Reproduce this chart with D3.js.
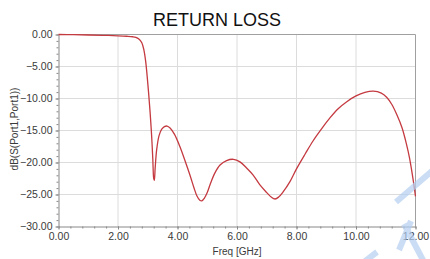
<!DOCTYPE html>
<html>
<head>
<meta charset="utf-8">
<script src="https://cdn.jsdelivr.net/npm/d3@7"></script>
<style>
  html, body { margin: 0; padding: 0; background: #fff; }
  svg { display: block; font-family: "Liberation Sans", Arial, sans-serif; }
</style>
</head>
<body>
<svg id="chart" width="430" height="259"></svg>
<script>
// ---- data ----
const freq = [0, 0.5, 1, 1.5, 2, 2.3, 2.5, 2.6, 2.7, 2.8, 2.87, 2.93, 2.98, 3.03, 3.08, 3.13, 3.17, 3.2, 3.22, 3.25, 3.3, 3.38, 3.47, 3.56, 3.65, 3.75, 3.9, 4.08, 4.25, 4.42, 4.55, 4.65, 4.75, 4.82, 4.9, 5.0, 5.1, 5.25, 5.43, 5.65, 5.88, 6.1, 6.33, 6.55, 6.77, 7.0, 7.15, 7.28, 7.4, 7.55, 7.78, 8.0, 8.3, 8.56, 8.85, 9.13, 9.4, 9.69, 10.0, 10.3, 10.58, 10.85, 11.03, 11.2, 11.37, 11.55, 11.7, 11.8, 11.87, 11.94, 12.0];
const s11 = [0, -0.03, -0.08, -0.13, -0.2, -0.27, -0.35, -0.45, -0.7, -1.3, -2.4, -4.2, -6.5, -9.2, -12.2, -15.8, -19.5, -22.5, -22.8, -20.8, -18.0, -15.8, -14.8, -14.4, -14.3, -14.6, -15.6, -17.5, -19.7, -22.0, -23.9, -25.2, -25.9, -26.0, -25.6, -24.7, -23.4, -21.7, -20.4, -19.7, -19.5, -19.9, -20.9, -22.0, -23.5, -24.7, -25.4, -25.7, -25.4, -24.6, -23.0, -21.0, -18.6, -16.6, -14.7, -13.0, -11.6, -10.5, -9.6, -9.05, -8.85, -9.15, -9.8, -10.9, -12.5, -14.6, -17.2, -19.3, -21.2, -23.3, -25.3];
const xTicks = [0, 2, 4, 6, 8, 10, 12];
const yTicks = [0, -5, -10, -15, -20, -25, -30];
const titleText = "RETURN LOSS";
const xTitle = "Freq [GHz]";
const yTitle = "dB(S(Port1,Port1))";

// ---- layout ----
const svg = d3.select("#chart");
const L = 58.5, R = 415.5, T = 34.5, B = 226.5;
const x = d3.scaleLinear().domain([0, 12]).range([L, R]);
const y = d3.scaleLinear().domain([-30, 0]).range([B, T]);
const fmt = d3.format(".2f");

// grid
const g = svg.append("g");
g.selectAll(".vg").data(xTicks.slice(1, -1)).join("line")
  .attr("x1", d => x(d)).attr("x2", d => x(d)).attr("y1", T).attr("y2", B)
  .attr("stroke", "#dcdcdc").attr("stroke-width", 1);
g.selectAll(".hg").data(yTicks.slice(1, -1)).join("line")
  .attr("x1", L).attr("x2", R).attr("y1", d => y(d)).attr("y2", d => y(d))
  .attr("stroke", "#dcdcdc").attr("stroke-width", 1);

// frame top/right
svg.append("path").attr("d", `M${L},${T}H${R}V${B}`)
  .attr("fill", "none").attr("stroke", "#a0a0a0").attr("stroke-width", 1);

// minor ticks
const xMinor = d3.range(0, 12.001, 0.4);
const yMinor = d3.range(-30, 0.001, 1);
svg.append("g").attr("transform", `translate(0,${B})`)
  .call(d3.axisBottom(x).tickValues(xMinor).tickSize(2).tickFormat(""))
  .call(a => a.select(".domain").remove())
  .selectAll("line").attr("stroke", "#888");
svg.append("g").attr("transform", `translate(${L},0)`)
  .call(d3.axisLeft(y).tickValues(yMinor).tickSize(2).tickFormat(""))
  .call(a => a.select(".domain").remove())
  .selectAll("line").attr("stroke", "#888");

// main axes
const xa = svg.append("g").attr("transform", `translate(0,${B})`)
  .call(d3.axisBottom(x).tickValues(xTicks).tickSize(3).tickSizeOuter(0).tickPadding(3).tickFormat(fmt));
const ya = svg.append("g").attr("transform", `translate(${L},0)`)
  .call(d3.axisLeft(y).tickValues(yTicks).tickSize(3).tickSizeOuter(0).tickPadding(3).tickFormat(fmt));
[xa, ya].forEach(a => {
  a.select(".domain").attr("stroke", "#888");
  a.selectAll(".tick line").attr("stroke", "#888");
  a.selectAll("text").attr("fill", "#3a3a3a").style("font-size", "10.5px")
    .style("font-family", "'Liberation Sans', Arial, sans-serif");
});

// curve
const pts = freq.map((f, i) => [f, s11[i]]);
const line = d3.line().x(d => x(d[0])).y(d => y(d[1])).curve(d3.curveCatmullRom.alpha(0.5));
svg.append("path").datum(pts).attr("d", line)
  .attr("fill", "none").attr("stroke", "#c43a40").attr("stroke-width", 1.3)
  .attr("stroke-linejoin", "round");

// titles
svg.append("text").attr("x", 217).attr("y", 26).attr("text-anchor", "middle")
  .attr("fill", "#111").style("font-size", "18px").text(titleText);
svg.append("text").attr("x", 237).attr("y", 255).attr("text-anchor", "middle")
  .attr("fill", "#3a3a3a").style("font-size", "10px").text(xTitle);
svg.append("text").attr("transform", "translate(18,129) rotate(-90)").attr("text-anchor", "middle")
  .attr("fill", "#3a3a3a").style("font-size", "10px").text(yTitle);

// watermark strokes (decorative)
const wm = svg.append("g").attr("stroke", "#b4cff2").attr("stroke-width", 6).attr("opacity", 0.7).attr("fill", "none");
wm.append("line").attr("x1", 396).attr("y1", 202).attr("x2", 432).attr("y2", 171);
wm.append("line").attr("x1", 399).attr("y1", 250).attr("x2", 411).attr("y2", 221);
wm.append("line").attr("x1", 404).attr("y1", 224).attr("x2", 424).attr("y2", 262);
wm.append("line").attr("x1", 364).attr("y1", 262).attr("x2", 377).attr("y2", 252);
</script>
</body>
</html>
